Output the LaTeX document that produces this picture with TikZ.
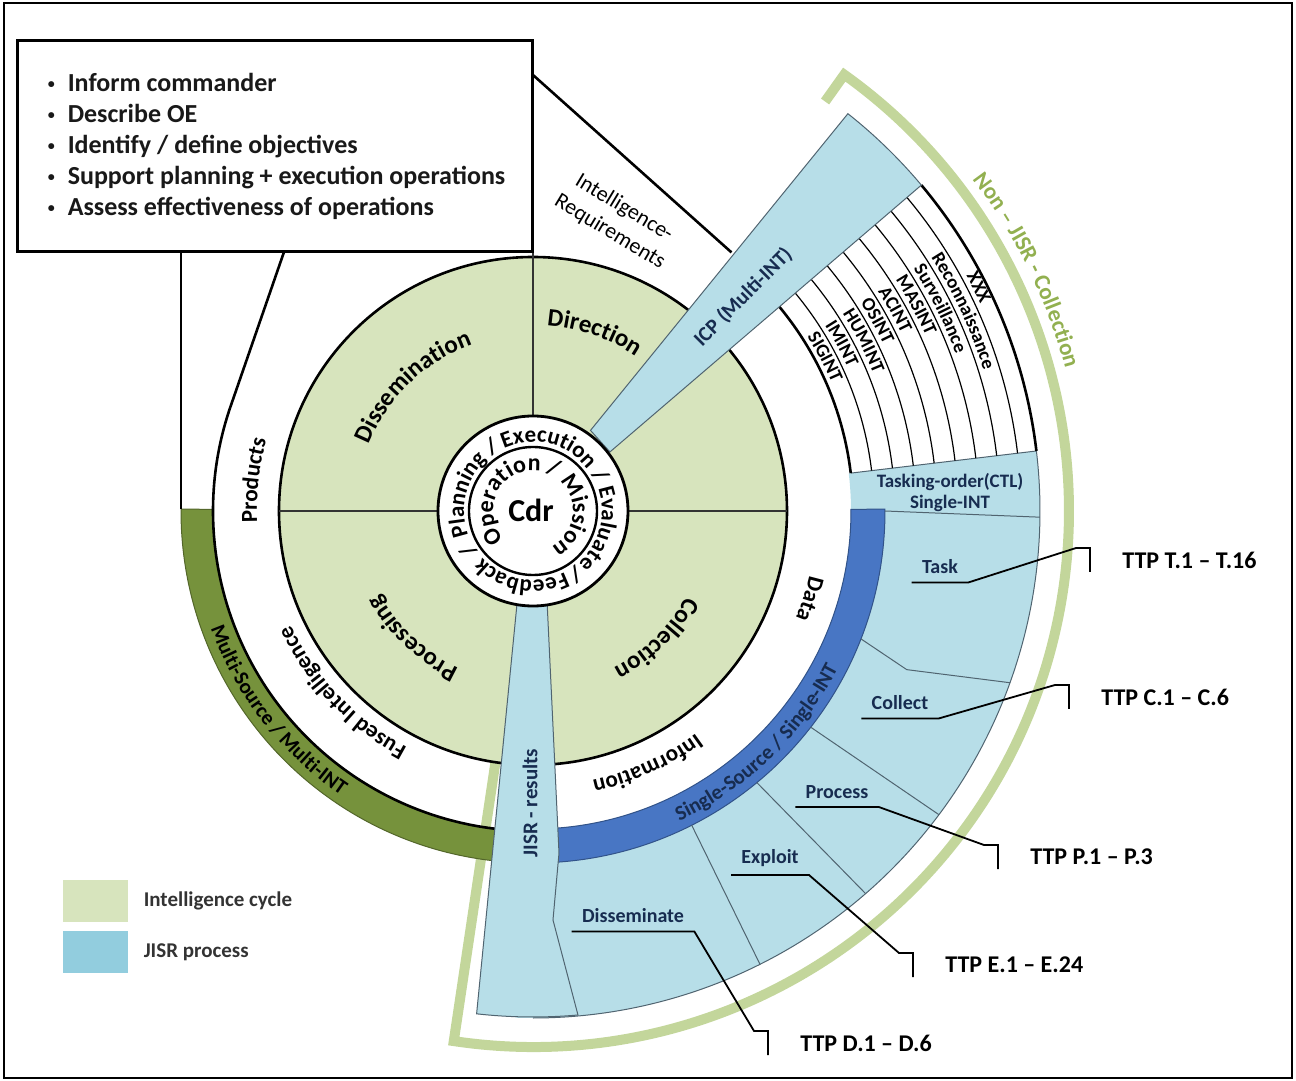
\documentclass[tikz,border=0pt]{standalone}
\usepackage{fontspec}
\setmainfont{Carlito}
\usetikzlibrary{positioning, calc, decorations.text}

\definecolor{cyclegreen}{RGB}{215,228,189}
\definecolor{multigreen}{RGB}{118,146,60}
\definecolor{jisrblue}{RGB}{183,222,232}
\definecolor{legendblue}{RGB}{146,205,222}
\definecolor{singleblue}{RGB}{72,118,196}
\definecolor{bracketgreen}{RGB}{195,214,155}
\definecolor{brackettext}{RGB}{146,176,80}
\definecolor{sectorline}{RGB}{80,100,112}
\definecolor{navytext}{RGB}{23,44,80}

\newcommand\boxfont{\fontsize{13}{15.5}\selectfont\bfseries}
\newcommand\quadfont{\fontsize{12.5}{15}\selectfont\bfseries}
\newcommand\ringfont{\fontsize{11.5}{14}\selectfont\bfseries}
\newcommand\cdrringfont{\fontsize{11.5}{13}\selectfont\bfseries}
\newcommand\missionfont{\fontsize{12}{14}\selectfont\bfseries}
\newcommand\cdrfont{\fontsize{16}{19}\selectfont\bfseries}
\newcommand\bandfont{\fontsize{10.5}{12}\selectfont\bfseries}
\newcommand\singlefont{\fontsize{10.5}{12}\selectfont\bfseries\color{navytext}}
\newcommand\nonfont{\fontsize{11.5}{14}\selectfont\bfseries\color{brackettext}}
\newcommand\intfont{\fontsize{9.5}{11}\selectfont\bfseries}
\newcommand\lblfont{\fontsize{10}{12}\selectfont\bfseries}
\newcommand\ttpfont{\fontsize{12}{14}\selectfont\bfseries}
\newcommand\keyfont{\fontsize{10.5}{12}\selectfont\bfseries}
\newcommand\icpfont{\fontsize{10.5}{12}\selectfont\bfseries}
\newcommand\reqfont{\fontsize{11}{14}\selectfont}
\newcommand\goal{\hspace{1pt}\makebox[10pt][l]{\raisebox{1.6pt}{\fontsize{7}{7}\selectfont\textbullet}}}

% text bent along a circle arc: [align]{radius}{start angle}{end angle}{text}
\newcommand{\arclabel}[5][center]{%
  \path[decorate, decoration={text along path, text align=#1, text={#5}}]
    (#3:#2) arc[start angle=#3, end angle=#4, radius=#2];}

% leader from a step label to its TTP label
\newcommand{\ttpline}[2]{%
  \draw[leader] ([xshift=-3pt,yshift=-2pt]#1.south west) -- ([xshift=3pt,yshift=-2pt]#1.south east)
    -- ($(#2.west)+(-42,12)$) -- ($(#2.west)+(-28,12)$) -- ($(#2.west)+(-28,-12)$);}

\begin{document}
\begin{tikzpicture}[x=0.5pt, y=0.5pt,
    ringline/.style={draw=black, line width=1.3pt},
    thinline/.style={draw=sectorline, line width=0.5pt},
    lbl/.style={font=\lblfont, text=navytext, inner sep=2pt},
    ttp/.style={font=\ttpfont, anchor=west, inner sep=2pt},
    leader/.style={draw=black, line width=0.9pt},
    key/.style={minimum width=32.5pt, minimum height=21pt, inner sep=0pt},
    keytext/.style={font=\keyfont, text=black!80, inner sep=0pt}]

    \useasboundingbox (-533,511) rectangle (763,-570);
    \draw[line width=1pt] (-529,508) rectangle (759,-567);

    % Non-JISR collection bracket
    \draw[bracketgreen, line width=5pt] (-98.5:254) -- (-98.5:536)
        arc[start angle=-98.5, end angle=54.5, radius=536] -- (54.5:503);

    % JISR process sector
    \fill[jisrblue] (-92:318) arc[start angle=-92, end angle=6.8, radius=318]
        -- (6.8:507) arc[start angle=6.8, end angle=-92, radius=507] -- cycle;
    \draw[thinline] (6.8:320) -- (6.8:507) arc[start angle=6.8, end angle=-90, radius=507];

    % single-source band
    \filldraw[fill=singleblue, draw=singleblue!70!black, line width=0.5pt]
        (0.3:318) arc[start angle=0.3, end angle=-89, radius=318]
        -- (-89:352) arc[start angle=-89, end angle=0.3, radius=352] -- cycle;

    % step borders
    \draw[thinline] (0:352) -- (-0.7:507);
    \draw[thinline] (-21.3:352) -- (-23:406) -- (-19.8:507);
    \draw[thinline] (-37.9:352) -- (-36.8:507);
    \draw[thinline] (-50.5:352) -- (-49:507);
    \draw[thinline] (-63.2:352) -- (-63.4:507);

    % multi-source band
    \filldraw[fill=multigreen, draw=multigreen!70!black, line width=0.5pt]
        (179.7:320) arc[start angle=179.7, end angle=264, radius=320]
        -- (264:352) arc[start angle=264, end angle=179.7, radius=352] -- cycle;

    % callout lines from the box
    \coordinate (prodTop) at (-249,259);
    \coordinate (prodLeft) at (-352,259);
    \coordinate (reqTop) at (0,436);
    \coordinate (reqEnd) at (52.5:326);
    \draw[ringline] (prodTop) -- (160.9:320) arc[start angle=160.9, end angle=264, radius=320];
    \draw[ringline] (prodLeft) -- (-352,2);
    \draw[ringline] (reqTop) -- (reqEnd);

    % collection disciplines
    \foreach \r in {341,362,...,488}
        \draw[line width=0.6pt] (6.8:\r) arc[start angle=6.8, end angle=46, radius=\r];
    \draw[ringline] (6.8:320) arc[start angle=6.8, end angle=46, radius=320];
    \draw[ringline] (6.8:507) arc[start angle=6.8, end angle=40, radius=507];

    % intelligence cycle
    \filldraw[fill=cyclegreen, draw=black, line width=1.3pt] (0,0) circle[radius=254];
    \foreach \a in {0,90,180,270}
        \draw[black!80, line width=0.8pt] (\a:95) -- (\a:254);
    \draw[black!80, line width=0.8pt] (90:254) -- (90:259);

    % ICP and JISR-results wedges
    \filldraw[fill=jisrblue, thinline] (54.5:99) -- (51.6:507)
        arc[start angle=51.6, end angle=40, radius=507] -- (37.5:97) -- cycle;
    \filldraw[fill=jisrblue, thinline] (-16,-93) -- (14,-89) -- (26,-342) -- (20,-409)
        -- (-84.9:506) arc[start angle=-84.9, end angle=-96.4, radius=506] -- cycle;

    % commander hub
    \filldraw[fill=white, draw=black, line width=1.4pt] (0,0) circle[radius=95];
    \draw[line width=1.2pt] (0,0) circle[radius=64];
    \node[font=\cdrfont] (cdr) at (-2,1) {Cdr};

    % tasks box
    \node[draw, line width=1.5pt, fill=white, minimum width=257.5pt, minimum height=105.5pt,
          align=left, font=\boxfont, text=black!90, inner sep=0pt] (goals) at (-257.5,364.5)
        {\goal Inform commander\\
         \goal Describe OE\\
         \goal Identify / define objectives\\
         \goal Support planning + execution operations\\
         \goal Assess effectiveness of operations};

    % hub texts
    \arclabel{69}{226}{106}{|\cdrringfont|Planning}
    \arclabel{69}{153}{93}{|\cdrringfont|/}
    \arclabel{69}{136}{16}{|\cdrringfont|Execution}
    \arclabel{69}{58}{-2}{|\cdrringfont|/}
    \arclabel{69}{45}{-75}{|\cdrringfont|Evaluate}
    \arclabel{69}{-26}{-86}{|\cdrringfont|/}
    \arclabel{69}{-40}{-160}{|\cdrringfont|Feedback}
    \arclabel{69}{-118}{-178}{|\cdrringfont|/}
    \arclabel{40}{232}{72}{|\missionfont|Operation}
    \arclabel{40}{104}{24}{|\missionfont|/}
    \arclabel{40}{50}{-64}{|\missionfont|Mission}

    % cycle phases
    \arclabel{186}{111}{31}{|\quadfont|Direction}
    \arclabel{177}{184}{84}{|\quadfont|Dissemination}
    \arclabel{174}{276.6}{176.6}{|\quadfont|Processing}
    \arclabel{176}{4.1}{-95.9}{|\quadfont|Collection}

    % ring texts
    \arclabel{276}{198.7}{148.7}{|\ringfont|Products}
    \arclabel{268}{263.6}{183.6}{|\ringfont|Fused Intelligence}
    \arclabel{276}{-30.7}{-100.7}{|\ringfont|Information}
    \arclabel{284}{7.3}{-42.7}{|\ringfont|Data}
    \arclabel{343}{178}{258}{|\bandfont|Multi-Source / Multi-INT}
    \arclabel{343}{-86}{-6}{|\singlefont|Single-Source / Single-INT}
    \arclabel{551}{56}{-4}{|\nonfont|Non – JISR - Collection}

    % discipline names
    \arclabel[left]{325}{32.5}{2}{|\intfont|SIGINT}
    \arclabel[left]{346}{32.5}{2}{|\intfont|IMINT}
    \arclabel[left]{367}{32.5}{2}{|\intfont|HUMINT}
    \arclabel[left]{388}{32.5}{2}{|\intfont|OSINT}
    \arclabel[left]{409}{32.5}{2}{|\intfont|ACINT}
    \arclabel[left]{430}{32.5}{2}{|\intfont|MASINT}
    \arclabel[left]{451}{32.5}{2}{|\intfont|Surveillance}
    \arclabel[left]{472}{32.5}{2}{|\intfont|Reconnaissance}
    \arclabel[left]{493}{28.5}{2}{|\intfont|XXX}

    \node[rotate=45, font=\icpfont, text=navytext] (icp) at (45.5:300) {ICP (Multi-INT)};
    \node[rotate=90, font=\icpfont, text=navytext] (jisr) at (-3,-292) {JISR - results};
    \node[rotate=-31, align=center, font=\reqfont, text=black] (req) at (84,291)
        {Intelligence-\\Requirements};
    \node[lbl, align=center, font=\fontsize{9.5}{10.5}\selectfont\bfseries] (tasking) at (417,18)
        {Tasking-order(CTL)\\Single-INT};

    % JISR steps
    \node[lbl] (task) at (407,-56) {Task};
    \node[lbl] (collect) at (367,-192) {Collect};
    \node[lbl] (process) at (304,-281) {Process};
    \node[lbl] (exploit) at (237,-347) {Exploit};
    \node[lbl] (dissem) at (100,-405) {Disseminate};

    \node[ttp] (ttpT) at (585,-49) {TTP T.1 – T.16};
    \node[ttp] (ttpC) at (564,-186) {TTP C.1 – C.6};
    \node[ttp] (ttpP) at (493,-346) {TTP P.1 – P.3};
    \node[ttp] (ttpE) at (408,-454) {TTP E.1 – E.24};
    \node[ttp] (ttpD) at (263,-532) {TTP D.1 – D.6};

    \ttpline{task}{ttpT}
    \ttpline{collect}{ttpC}
    \ttpline{process}{ttpP}
    \ttpline{exploit}{ttpE}
    \ttpline{dissem}{ttpD}

    % legend
    \node[key, fill=cyclegreen] (keyCycle) at (-437.5,-390) {};
    \node[key, fill=legendblue, below=4pt of keyCycle] (keyJisr) {};
    \node[keytext, right=7.5pt of keyCycle] (keyCycleText) {Intelligence cycle};
    \node[keytext, right=7.5pt of keyJisr] (keyJisrText) {JISR process};

\end{tikzpicture}
\end{document}
